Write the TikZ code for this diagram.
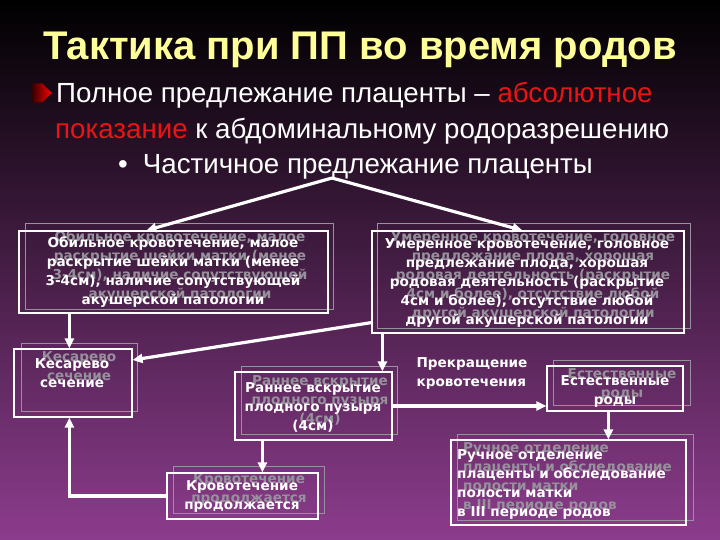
\documentclass[tikz,border=0pt]{standalone}
\usepackage{fontspec}
\setmainfont{Liberation Sans}
\newfontfamily\bfont{DejaVu Sans}
\usetikzlibrary{arrows.meta,fit,shapes.arrows}
\definecolor{bgbot}{RGB}{140,60,140}
\definecolor{ghost}{RGB}{150,145,155}
\definecolor{ttl}{RGB}{255,255,153}
\definecolor{redt}{RGB}{235,20,20}
\begin{document}
\begin{tikzpicture}[x=1pt,y=-1pt,
  wbox/.style={draw=white, line width=1.2pt, inner sep=0pt},
  gbox/.style={draw=ghost, line width=1pt},
  btxt/.style={text=white, font=\bfont\bfseries\fontsize{13.6}{19}\selectfont, align=center, inner sep=0pt},
  gtxt/.style={text=ghost, font=\bfont\bfseries\fontsize{13.6}{19}\selectfont, align=center, inner sep=0pt},
  arr/.style={draw=white, line width=3.2pt, -{Triangle[length=10pt,width=9pt]}},
  bul/.style={anchor=west, text=white, font=\fontsize{27.7}{30}\selectfont, inner sep=0pt}
]
\useasboundingbox (0,0) rectangle (720,540);
\shade[top color=black, bottom color=bgbot] (0,0) rectangle (720,540);

% title
\node[text=ttl, font=\bfseries\fontsize{40}{44}\selectfont, inner sep=0pt] (title) at (360,50) {Тактика при ПП во время родов};

% bullet 1
\node[single arrow, shape border rotate=0, minimum height=20pt, minimum width=19pt, single arrow head extend=0pt, inner sep=0pt, left color=red!20!black, right color=red, draw=none] (icon) at (37,93) {};
\node[bul] (b1) at (56,95) {Полное предлежание плаценты – \textcolor{redt}{абсолютное}};
\node[bul] (b2) at (55,131) {\textcolor{redt}{показание} к абдоминальному родоразрешению};
\node[bul] (b3) at (118,167) {•\hspace{15pt}Частичное предлежание плаценты};
\coordinate (apex) at (332,178);

% left box
\draw[gbox] (25,224) rectangle (333,309);
\node[gtxt] at (180,266) {Обильное кровотечение, малое\\раскрытие шейки матки (менее\\3-4см), наличие сопутствующей\\акушерской патологии};
\node[wbox, fit={(19,231) (328,313)}] (L) {};
\node[btxt] (Lt) at (173,272) {Обильное кровотечение, малое\\раскрытие шейки матки (менее\\3-4см), наличие сопутствующей\\акушерской патологии};

% right box
\draw[gbox] (377,224) rectangle (690,328);
\node[gtxt] at (533,276) {Умеренное кровотечение, головное\\предлежание плода, хорошая\\родовая деятельность (раскрытие\\4см и более), отсутствие любой\\другой акушерской патологии};
\node[wbox, fit={(372,231) (684,333)}] (R) {};
\node[btxt] (Rt) at (527,283) {Умеренное кровотечение, головное\\предлежание плода, хорошая\\родовая деятельность (раскрытие\\4см и более), отсутствие любой\\другой акушерской патологии};

% Кесарево сечение
\draw[gbox] (21,343) rectangle (137,411);
\node[gtxt] at (79,366) {Кесарево\\сечение};
\node[wbox, fit={(14,349) (132,417)}] (kes) {};
\node[btxt] (kest) at (72,373) {Кесарево\\сечение};

% Раннее вскрытие
\draw[gbox] (241,366) rectangle (397,434);
\node[gtxt] at (320,400) {Раннее вскрытие\\плодного пузыря\\(4см)};
\node[wbox, fit={(235,372) (392,440)}] (ran) {};
\node[btxt] (rant) at (313,407) {Раннее вскрытие\\плодного пузыря\\(4см)};

% Кровотечение продолжается
\draw[gbox] (173,466) rectangle (324,513);
\node[gtxt] at (249,489) {Кровотечение\\продолжается};
\node[wbox, fit={(167,473) (318,519)}] (krov) {};
\node[btxt] (krovt) at (242,496) {Кровотечение\\продолжается};

% label
\node[btxt, align=left] (stop) at (472,373) {Прекращение\\кровотечения};

% Естественные роды
\draw[gbox] (553,360) rectangle (690,405);
\node[gtxt] at (622,384) {Естественные\\роды};
\node[wbox, fit={(547,366) (683,411)}] (est) {};
\node[btxt] (estt) at (615,391) {Естественные\\роды};

% Ручное отделение
\draw[gbox] (457,434) rectangle (693,520);
\node[gtxt, align=left, anchor=west] at (463,477) {Ручное отделение\\плаценты и обследование\\полости матки\\в III периоде родов};
\node[wbox, fit={(451,440) (686,525)}] (ruch) {};
\node[btxt, align=left, anchor=west] (rucht) at (457,484) {Ручное отделение\\плаценты и обследование\\полости матки\\в III периоде родов};

% connectors
\draw[arr] (apex) -- ([xshift=128pt]L.north west);
\draw[arr] (apex) -- ([xshift=151pt]R.north west);
\draw[arr] ([xshift=51pt]L.south west) -- ([xshift=56pt]kes.north west);
\draw[arr] ([yshift=11pt]R.south west) -- ([yshift=23pt]kes.east);
\draw[arr] ([xshift=11pt]R.south west) -- ([xshift=148pt]ran.north west);
\draw[arr] ([xshift=28pt]ran.south west) -- ([xshift=96pt]krov.north west);
\draw[arr] (krov.west) -| ([xshift=56pt]kes.south west);
\draw[arr] (ran.east) -- (ran.east -| est.west);
\draw[arr] ([xshift=62pt]est.south west) -- ([xshift=158pt]ruch.north west);
\end{tikzpicture}
\end{document}
